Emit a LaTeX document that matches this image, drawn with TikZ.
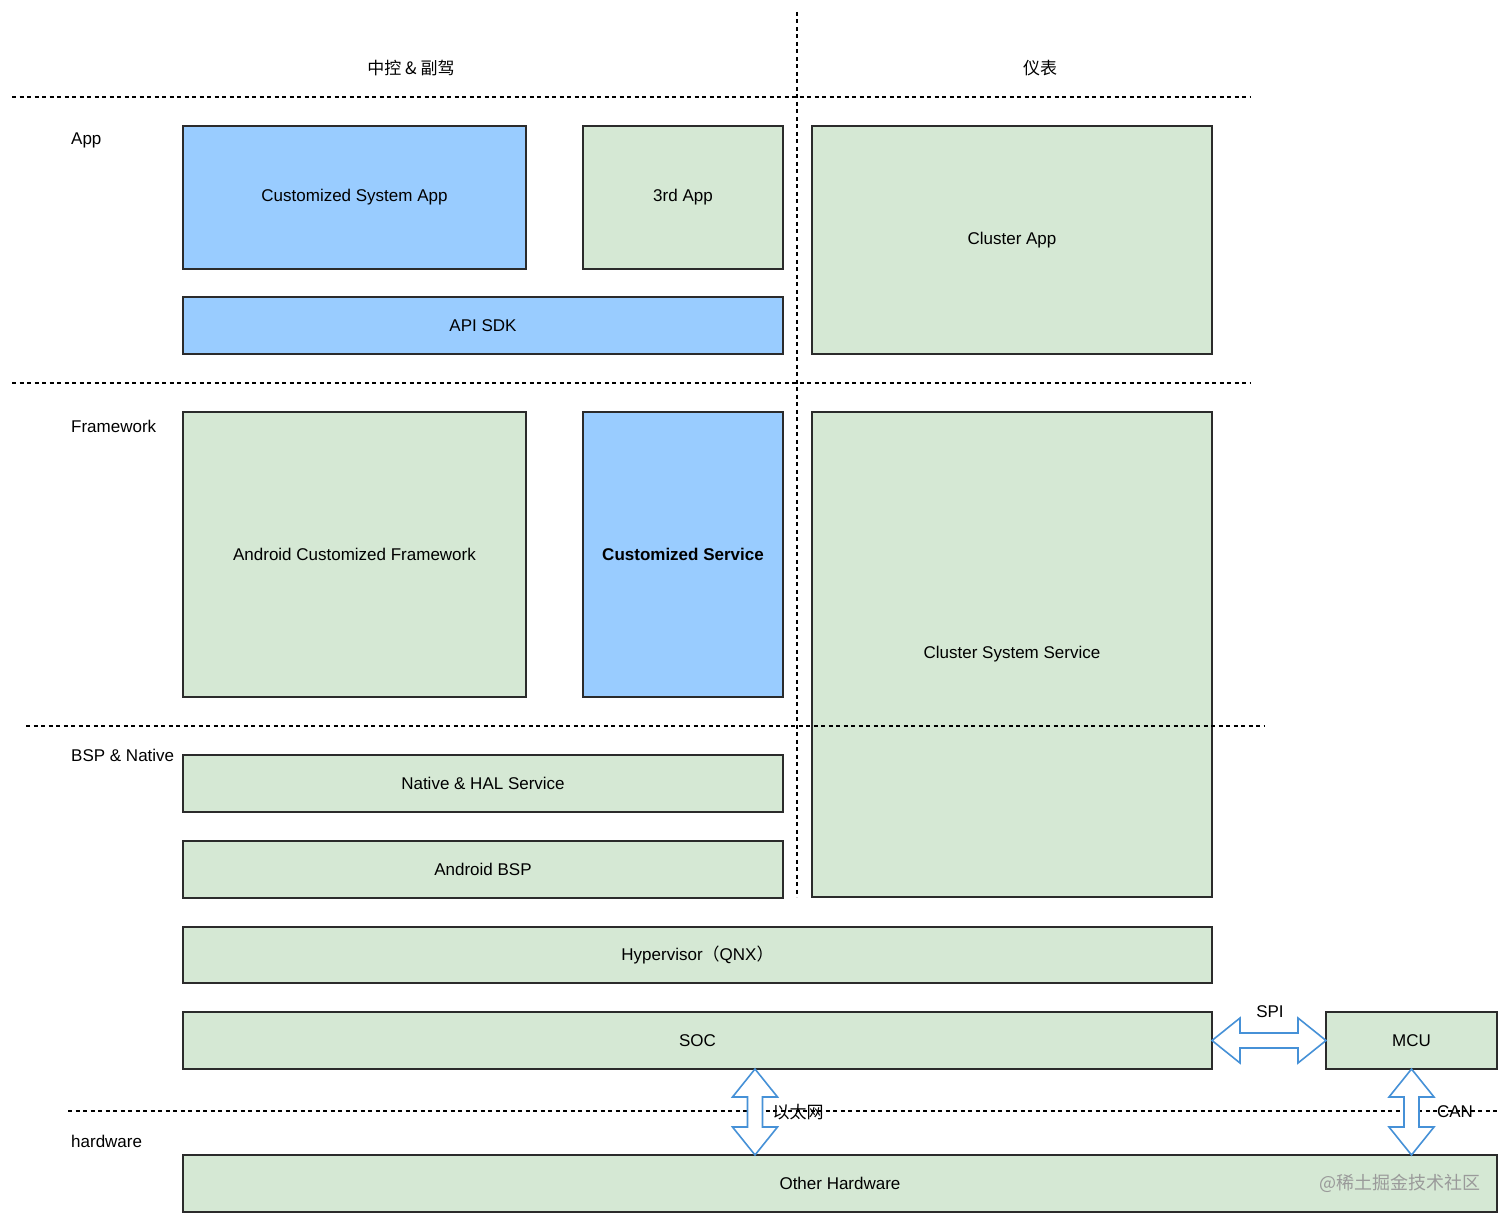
\documentclass[tikz,border=0pt]{standalone}
\usepackage{fontspec}
\setmainfont{Liberation Sans}
\newfontfamily\cjk{Noto Sans CJK SC}
\usetikzlibrary{calc}
\definecolor{boxblue}{HTML}{99CCFF}
\definecolor{boxgreen}{HTML}{D5E8D4}
\definecolor{boxline}{HTML}{2B2B2B}
\definecolor{arrowblue}{RGB}{70,145,215}
\definecolor{wm}{HTML}{9A9A9A}
\begin{document}
\begin{tikzpicture}[x=1pt,y=-1pt,
  every node/.style={font=\fontsize{17}{20}\selectfont, text=black},
  box/.style={draw=boxline, line width=1.6pt, anchor=north west, inner sep=0pt, outer sep=0pt},
  gbox/.style={box, fill=boxgreen},
  bbox/.style={box, fill=boxblue},
  sep/.style={draw=black, line width=1.4pt, dash pattern=on 4pt off 3.5pt},
  lab/.style={anchor=west, inner sep=0pt},
  bigarrow/.style={draw=arrowblue, fill=white, line width=1.6pt, line join=miter}]
\useasboundingbox (0,0) rectangle (1512,1225);
\fill[white] (0,0) rectangle (1512,1225);

% separators
\coordinate (vt) at (797,12);
\coordinate (vb) at (797,897);
\coordinate (h1a) at (12,97);   \coordinate (h1b) at (1250,97);
\coordinate (h2a) at (12,383);  \coordinate (h2b) at (1250,383);
\coordinate (h4a) at (68,1111); \coordinate (h4b) at (1497,1111);

% header labels
\node (hl) at (411,68) {\cjk 中控 \& 副驾};
\node (hr) at (1040,68) {\cjk 仪表};

% layer labels
\node[lab] (lapp) at (71,140) {App};
\node[lab] (lfw) at (71,426) {Framework};
\node[lab] (lbsp) at (71,755) {BSP \& Native};
\node[lab] (lhw) at (71,1141) {hardware};

% boxes
\node[bbox, minimum width=343, minimum height=143] (csa) at (183,126) {Customized System App};
\node[gbox, minimum width=200, minimum height=143] (third) at (583,126) {3rd App};
\node[bbox, minimum width=600, minimum height=57] (sdk) at (183,297) {API SDK};
\node[gbox, minimum width=400, minimum height=228] (capp) at (812,126) {Cluster App};
\node[gbox, minimum width=343, minimum height=285] (acf) at (183,412) {Android Customized Framework};
\node[bbox, minimum width=200, minimum height=285, font=\fontsize{17}{20}\selectfont\bfseries] (cs) at (583,412) {Customized Service};
\node[gbox, minimum width=400, minimum height=485] (css) at (812,412) {Cluster System Service};
\node[gbox, minimum width=600, minimum height=57] (hal) at (183,755) {Native \& HAL Service};
\node[gbox, minimum width=600, minimum height=57] (bsp) at (183,841) {Android BSP};
\node[gbox, minimum width=1029, minimum height=56] (hyp) at (183,927) {Hypervisor{\cjk （}QNX{\cjk ）}};
\node[gbox, minimum width=1029, minimum height=57] (soc) at (183,1012) {SOC};
\node[gbox, minimum width=171, minimum height=57] (mcu) at (1326,1012) {MCU};
\node[gbox, minimum width=1314, minimum height=57] (oh) at (183,1155) {Other Hardware};
\node[text=wm, font=\fontsize{18}{20}\selectfont\cjk] (wmk) at (1400,1183) {@稀土掘金技术社区};

% dashed separators
\draw[sep] (vt) -- (vb);
\draw[sep] (h1a) -- (h1b);
\draw[sep] (h2a) -- (h2b);
\draw[sep] (26,726) coordinate (h3a) -- (1265,726) coordinate (h3b);
\draw[sep] (h4a) -- (h4b);

% SPI arrow
\draw[bigarrow] (soc.east) -- ++(28,-22.5) -- ++(0,15)
  -- ($(mcu.west)+(-28,-7.5)$) -- ++(0,-15) -- (mcu.west)
  -- ++(-28,22.5) -- ++(0,-15) -- ($(soc.east)+(28,7.5)$) -- ++(0,15) -- cycle;
\node (spi) at (1270,1012) {SPI};

% Ethernet arrow
\coordinate (ex) at (755,0);
\coordinate (et) at (soc.south -| ex);
\coordinate (eb) at (oh.north -| ex);
\draw[bigarrow] (et) -- ++(22.5,28) -- ++(-15,0) -- ($(eb)+(7.5,-28)$) -- ++(15,0)
  -- (eb) -- ++(-22.5,-28) -- ++(15,0) -- ($(et)+(-7.5,28)$) -- ++(-15,0) -- cycle;
\node[inner sep=0pt] (eth) at (798,1112) {\cjk 以太网};

% CAN arrow
\coordinate (ct) at (mcu.south);
\coordinate (cb) at (oh.north -| mcu.south);
\draw[bigarrow] (ct) -- ++(22.5,28) -- ++(-15,0) -- ($(cb)+(7.5,-28)$) -- ++(15,0)
  -- (cb) -- ++(-22.5,-28) -- ++(15,0) -- ($(ct)+(-7.5,28)$) -- ++(-15,0) -- cycle;
\node (can) at (1455,1112) {CAN};
\end{tikzpicture}
\end{document}
